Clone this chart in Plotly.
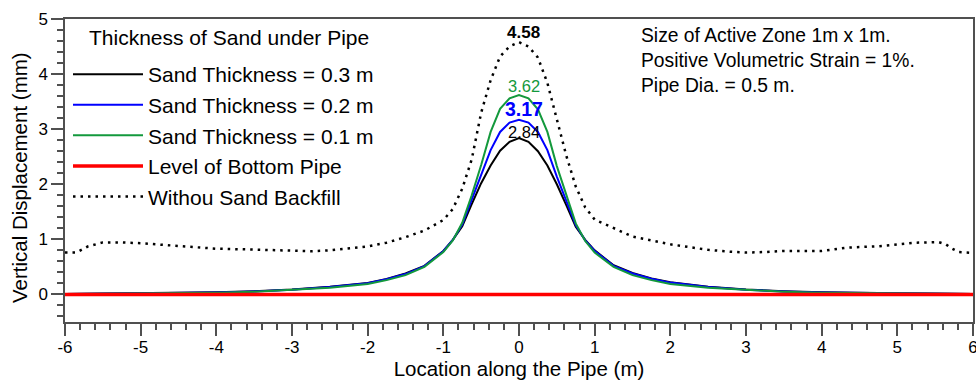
import plotly.graph_objects as go

# ---------------- data ----------------
x_sand = [-6, -5, -4, -3.5, -3, -2.5, -2, -1.75, -1.5, -1.25, -1, -0.875, -0.75, -0.625, -0.5, -0.375, -0.25, -0.125,
          0, 0.125, 0.25, 0.375, 0.5, 0.625, 0.75, 0.875, 1, 1.25, 1.5, 1.75, 2, 2.5, 3, 3.5, 4, 5, 6]

y_sand_03 = [0.01, 0.02, 0.04, 0.06, 0.09, 0.14, 0.21, 0.28, 0.38, 0.52, 0.79, 0.99, 1.24, 1.64, 2.02, 2.34, 2.61, 2.77,
             2.84, 2.77, 2.60, 2.34, 2.00, 1.62, 1.23, 0.99, 0.80, 0.53, 0.39, 0.29, 0.22, 0.14, 0.09, 0.06, 0.04, 0.02, 0.01]

y_sand_02 = [0.01, 0.02, 0.035, 0.055, 0.085, 0.135, 0.205, 0.275, 0.37, 0.515, 0.785, 0.99, 1.27, 1.72, 2.18, 2.62, 2.95, 3.12,
             3.17, 3.12, 2.95, 2.62, 2.14, 1.70, 1.26, 0.98, 0.79, 0.52, 0.38, 0.285, 0.215, 0.135, 0.085, 0.055, 0.035, 0.02, 0.01]

y_sand_01 = [0.01, 0.015, 0.03, 0.05, 0.08, 0.12, 0.19, 0.26, 0.35, 0.50, 0.77, 0.98, 1.30, 1.80, 2.35, 2.95, 3.37, 3.56,
             3.62, 3.56, 3.36, 2.95, 2.33, 1.80, 1.29, 0.97, 0.76, 0.50, 0.35, 0.26, 0.19, 0.12, 0.08, 0.05, 0.03, 0.015, 0.01]

x_nosand = [-6, -5.85, -5.7, -5.5, -5.25, -5, -4.5, -4, -3.5, -3, -2.75, -2.5, -2.25, -2, -1.75, -1.5, -1.25, -1,
            -0.875, -0.75, -0.625, -0.5, -0.375, -0.25, -0.125, 0, 0.125, 0.25, 0.375, 0.5, 0.625, 0.75, 0.875,
            1, 1.25, 1.5, 1.75, 2, 2.25, 2.5, 2.75, 3, 3.25, 3.5, 4, 4.33, 4.75, 5, 5.25, 5.55, 5.64, 5.72, 5.81, 6]
y_nosand = [0.76, 0.76, 0.87, 0.945, 0.945, 0.93, 0.88, 0.83, 0.815, 0.79, 0.785, 0.80, 0.83, 0.87, 0.94, 1.04, 1.16, 1.35,
            1.55, 1.92, 2.45, 3.30, 3.89, 4.32, 4.50, 4.58, 4.50, 4.30, 3.84, 3.18, 2.52, 1.96, 1.58,
            1.36, 1.20, 1.05, 0.98, 0.91, 0.86, 0.81, 0.78, 0.76, 0.77, 0.79, 0.79, 0.85, 0.875, 0.91, 0.94, 0.95, 0.91, 0.835, 0.77, 0.755]

x_pipe = [-6, 6]
y_pipe = [0, 0]

x_ticks = [-6, -5, -4, -3, -2, -1, 0, 1, 2, 3, 4, 5, 6]
y_ticks = [0, 1, 2, 3, 4, 5]

names = ["Sand Thickness = 0.3 m", "Sand Thickness = 0.2 m", "Sand Thickness = 0.1 m",
         "Level of Bottom Pipe", "Withou Sand Backfill"]
legend_title = "Thickness of Sand under Pipe"
info_lines = ["Size of Active Zone 1m x 1m.", "Positive Volumetric Strain = 1%.", "Pipe Dia. = 0.5 m."]
x_title = "Location along the Pipe (m)"
y_title = "Vertical Displacement (mm)"

# ---------------- figure ----------------
FONT = "Liberation Sans, Arial, sans-serif"
GREEN = "#13993c"
BLUE = "#0000ff"
AX = "#505050"

# pixel geometry helpers (plot area: left 65, right 973, top 19, bottom 322)
L, R, T, B = 65, 973, 19, 322
def px_x(p):
    return (p - L) / (R - L)
def px_y(p):
    return (B - p) / (B - T)

fig = go.Figure()
styles = [dict(color="black", width=2), dict(color=BLUE, width=2), dict(color=GREEN, width=2),
          dict(color="#ff0000", width=3.5), dict(color="black", width=2.5, dash="2.5px,5px")]
xs = [x_sand, x_sand, x_sand, x_pipe, x_nosand]
ys = [y_sand_03, y_sand_02, y_sand_01, y_pipe, y_nosand]
for i in range(5):
    fig.add_trace(go.Scatter(x=xs[i], y=ys[i], mode="lines", name=names[i], line=styles[i],
                             legendrank=i + 1, legendgroup=f"g{i}"))

# peak labels
peak_specs = [
    (y_nosand, "black", 17, True, 4.76),
    (y_sand_01, GREEN, 16.5, False, 3.79),
    (y_sand_02, BLUE, 19.5, True, 3.37),
    (y_sand_03, "black", 16.5, False, 2.95),
]
for yv, col, sz, bold, ypos in peak_specs:
    txt = f"{max(yv):.2f}"
    if bold:
        txt = f"<b>{txt}</b>"
    fig.add_annotation(x=0.06, y=ypos, text=txt, showarrow=False,
                       font=dict(family=FONT, size=sz, color=col), xanchor="center", yanchor="middle")

fig.add_annotation(x=px_x(639), xref="paper", y=px_y(23), yref="paper", text="<br>".join(info_lines),
                   showarrow=False, align="left", xanchor="left", yanchor="top",
                   font=dict(family=FONT, size=19.3, color="black"))

fig.add_annotation(x=px_x(228.5), xref="paper", y=px_y(37), yref="paper", text=legend_title,
                   showarrow=False, xanchor="center", yanchor="middle",
                   font=dict(family=FONT, size=21, color="black"))

# y-axis title (placed slightly below the plot centre as in the reference)
fig.add_annotation(x=px_x(19), xref="paper", y=px_y(178), yref="paper", text=y_title, textangle=-90,
                   showarrow=False, xanchor="center", yanchor="middle",
                   font=dict(family=FONT, size=20.5, color="black"))

axis_common = dict(showgrid=False, zeroline=False, showline=True, linecolor=AX, linewidth=1.5,
                   mirror=True, ticks="outside", ticklen=12, tickwidth=1.5, tickcolor=AX,
                   tickfont=dict(family=FONT, size=17, color="black"), automargin=False,
                   ticklabeloverflow="allow")

fig.update_xaxes(range=[-6, 6], tickvals=x_ticks, ticktext=[str(v) for v in x_ticks],
                 minor=dict(dtick=0.2, tick0=0, ticks="outside", ticklen=6, tickwidth=1.5, tickcolor=AX),
                 ticklabelstandoff=-3,
                 title=dict(text=x_title, font=dict(family=FONT, size=20.5, color="black"), standoff=2),
                 **axis_common)
fig.update_yaxes(range=[-0.5, 5], tickvals=y_ticks, ticktext=[str(v) for v in y_ticks],
                 minor=dict(dtick=0.2, tick0=0, ticks="outside", ticklen=6, tickwidth=1.5, tickcolor=AX),
                 **axis_common)

fig.update_layout(
    width=976, height=387,
    margin=dict(l=L, r=976 - R, t=T, b=387 - B),
    paper_bgcolor="white", plot_bgcolor="white",
    font=dict(family=FONT, color="black"),
    legend=dict(x=px_x(68), y=px_y(54), xanchor="left", yanchor="top",
                bgcolor="rgba(0,0,0,0)", borderwidth=0, tracegroupgap=0.3,
                font=dict(family=FONT, size=21, color="black"),
                itemwidth=70),
    showlegend=True,
)

fig.write_html("out.html")
